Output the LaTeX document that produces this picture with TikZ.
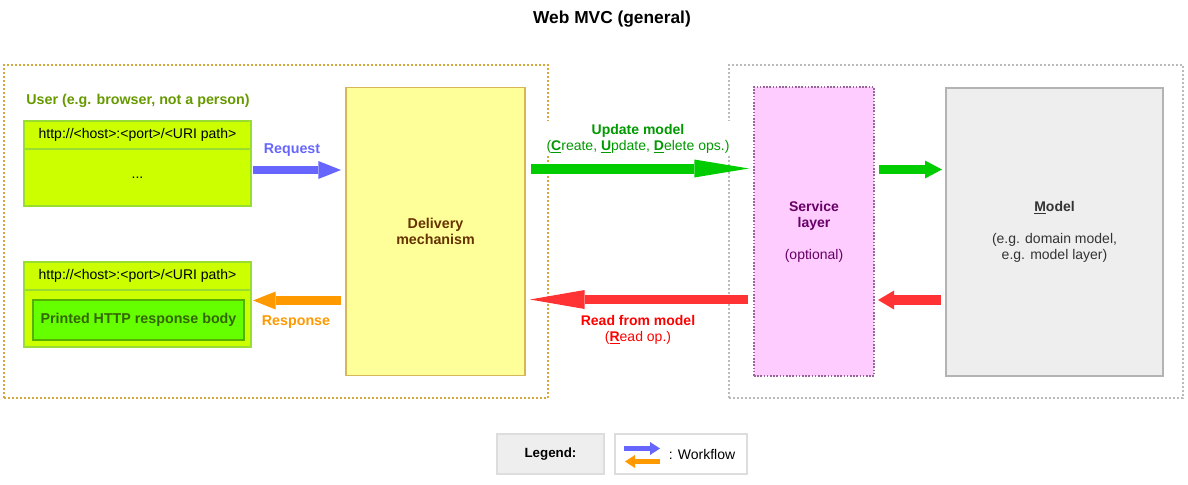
\documentclass[tikz,border=0pt]{standalone}
\usepackage{fontspec}
\setmainfont{Liberation Sans}
\usetikzlibrary{arrows.meta}
\definecolor{contL}{HTML}{D6A83C}
\definecolor{contR}{HTML}{BBBBBB}
\definecolor{userG}{HTML}{669900}
\definecolor{limeF}{HTML}{CCFF00}
\definecolor{limeD}{HTML}{99DD33}
\definecolor{bodyF}{HTML}{66FF00}
\definecolor{bodyD}{HTML}{55B000}
\definecolor{bodyT}{HTML}{336600}
\definecolor{delF}{HTML}{FFFF99}
\definecolor{delD}{HTML}{D6B656}
\definecolor{delT}{HTML}{663300}
\definecolor{svcF}{HTML}{FFCCFF}
\definecolor{svcD}{HTML}{996699}
\definecolor{svcT}{HTML}{660066}
\definecolor{modF}{HTML}{EEEEEE}
\definecolor{modD}{HTML}{B3B3B3}
\definecolor{modT}{HTML}{333333}
\definecolor{reqC}{HTML}{6666FF}
\definecolor{resC}{HTML}{FF9900}
\definecolor{updC}{HTML}{00CC00}
\definecolor{updT}{HTML}{009900}
\definecolor{redC}{HTML}{FF3333}
\definecolor{redT}{HTML}{FF0000}
\definecolor{legD}{HTML}{DDDDDD}
\begin{document}
\begin{tikzpicture}[x=0.75pt,y=-0.75pt,
  font=\fontsize{10.5}{12}\selectfont,
  big/.style={font=\bfseries\fontsize{10.7}{12}\selectfont},
  box/.style={draw, line width=1pt, inner sep=0pt, align=center},
  cont/.style={draw, line width=0.8pt, dash pattern=on 1.5pt off 1.5pt, inner sep=0pt},
  lbl/.style={inner sep=1pt, align=center},
  blk/.style={line width=#1}
]
\useasboundingbox (0,0) rectangle (1188,485);

% title
\node[lbl, font=\bfseries\fontsize{13}{15}\selectfont] (title) at (612,19) {Web MVC (general)};

% containers
\node[cont, draw=contL, minimum width=408pt, minimum height=249.75pt] (contL) at (276,231.5) {};
\node[cont, draw=contR, minimum width=340.5pt, minimum height=249.75pt] (contR) at (956,231.5) {};

% user side
\node[lbl, big, text=userG] (user) at (138,101) {User (e.g. browser, not a person)};
\node[box, draw=limeD, fill=limeF, minimum width=170.25pt, minimum height=42.75pt] (u1b) at (137.5,177.5) {...};
\node[box, draw=limeD, fill=limeF, minimum width=170.25pt, minimum height=21pt] (u1h) at (137.5,135) {http://<host>:<port>/<URI path>};
\node[box, draw=limeD, fill=limeF, minimum width=170.25pt, minimum height=42.75pt] (u2b) at (137.5,318.5) {};
\node[box, draw=limeD, fill=limeF, minimum width=170.25pt, minimum height=21pt] (u2h) at (137.5,276) {http://<host>:<port>/<URI path>};
\node[box, big, draw=bodyD, fill=bodyF, text=bodyT, minimum width=158.25pt, minimum height=30pt] (resp) at (138.5,320) {Printed HTTP response body};

% main boxes
\node[box, big, draw=delD, fill=delF, text=delT, minimum width=134.25pt, minimum height=216pt] (deliv) at (435.5,231.5) {Delivery\\mechanism};
\node[box, draw=svcD, fill=svcF, text=svcT, dash pattern=on 1.2pt off 1.2pt, minimum width=90pt, minimum height=216.75pt] (svc) at (814,231.5) {\textbf{Service}\\\textbf{layer}\\[12pt](optional)};
\node[box, draw=modD, fill=modF, text=modT, minimum width=162.75pt, minimum height=216pt] (model) at (1054.5,232) {\textbf{\underline{M}odel}\\[12pt](e.g. domain model,\\e.g. model layer)};

% arrow labels
\node[lbl, big, text=reqC] (reqL) at (292,150) {Request};
\node[lbl, big, text=resC] (resL) at (296,322) {Response};
\node[lbl, fill=white, text=updT, inner sep=2pt] (updL) at (638,138.5) {\textbf{Update model}\\(\textbf{\underline{C}}reate, \textbf{\underline{U}}pdate, \textbf{\underline{D}}elete ops.)};
\node[lbl, text=redT] (redL) at (638,330) {\textbf{Read from model}\\(\textbf{\underline{R}}ead op.)};

% arrow endpoints
\coordinate (rq1) at (253,170);  \coordinate (rq2) at (341,170);
\coordinate (rs1) at (341,300.5); \coordinate (rs2) at (253,300.5);
\coordinate (up1) at (531,168.5); \coordinate (up2) at (749,168.5);
\coordinate (rd1) at (748,299.5); \coordinate (rd2) at (530,299.5);
\coordinate (su1) at (879,169.5); \coordinate (su2) at (942,169.5);
\coordinate (sr1) at (941,300);  \coordinate (sr2) at (878,300);

\draw[blk=6.3pt, reqC, -{Triangle[length=17pt,width=13.5pt,line width=0pt]}] (rq1) -- (rq2);
\draw[blk=7pt, resC, -{Triangle[length=17pt,width=13.5pt,line width=0pt]}] (rs1) -- (rs2);
\draw[blk=7.5pt, updC, -{Triangle[length=41pt,width=13.5pt,line width=0pt]}] (up1) -- (up2);
\draw[blk=7pt, redC, -{Triangle[length=41pt,width=14.25pt,line width=0pt]}] (rd1) -- (rd2);
\draw[blk=7pt, updC, -{Triangle[length=12.75pt,width=13.5pt,line width=0pt]}] (su1) -- (su2);
\draw[blk=7.5pt, redC, -{Triangle[length=12pt,width=14.25pt,line width=0pt]}] (sr1) -- (sr2);

% legend
\node[box, draw=legD, fill=modF, font=\bfseries, minimum width=80.25pt, minimum height=30pt] (leg) at (550.5,454) {Legend:};
\node[box, draw=legD, fill=white, minimum width=99pt, minimum height=30pt] (wf) at (681,454) {};
\node[lbl] (wfL) at (702,454) {: Workflow};
\coordinate (lb1) at (624,448.5); \coordinate (lb2) at (660,448.5);
\coordinate (lo1) at (660,461.5); \coordinate (lo2) at (625,461.5);
\draw[blk=3.9pt, reqC, -{Triangle[length=7.5pt,width=9.75pt,line width=0pt]}] (lb1) -- (lb2);
\draw[blk=3.9pt, resC, -{Triangle[length=7.5pt,width=9.75pt,line width=0pt]}] (lo1) -- (lo2);
\end{tikzpicture}
\end{document}
